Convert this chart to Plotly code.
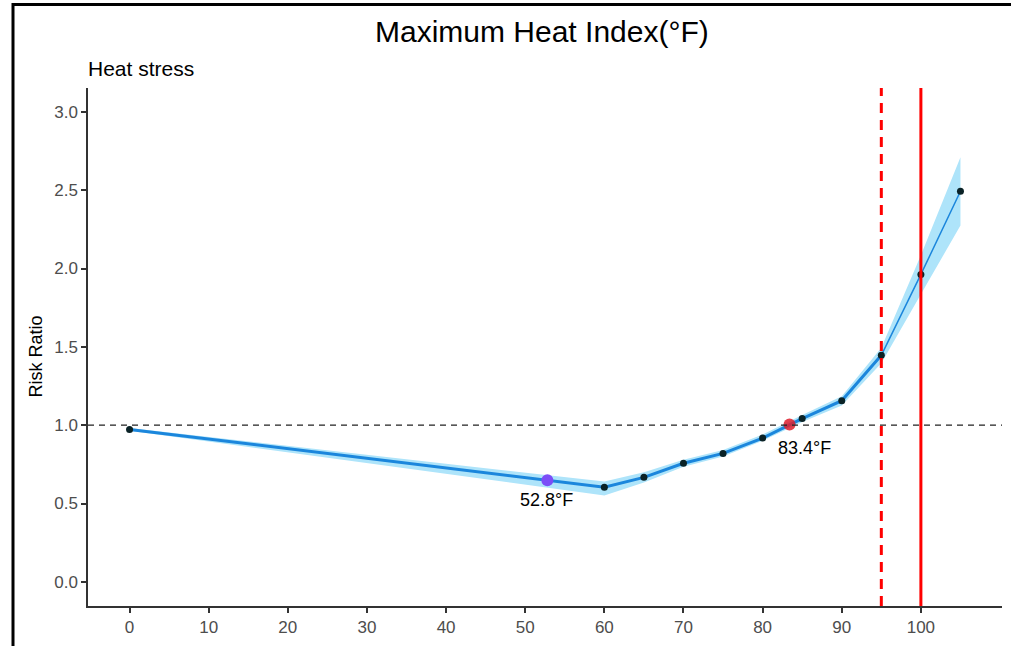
import plotly.graph_objects as go

# ---- data ----
temp_f = [0, 60, 65, 70, 75, 80, 85, 90, 95, 100, 105]
risk_ratio = [0.973, 0.604, 0.667, 0.757, 0.820, 0.918, 1.042, 1.156, 1.446, 1.962, 2.493]
ci_lower = [0.965, 0.552, 0.635, 0.735, 0.800, 0.900, 1.020, 1.125, 1.395, 1.835, 2.275]
ci_upper = [0.982, 0.640, 0.700, 0.780, 0.842, 0.940, 1.065, 1.185, 1.495, 2.085, 2.710]
min_risk_temp = [52.8]
min_risk_rr = [0.648]
mmt_temp = [83.4]
mmt_rr = [1.004]
threshold_dashed = 95
threshold_solid = 100
x_ticks = [0, 10, 20, 30, 40, 50, 60, 70, 80, 90, 100]
y_ticks = [0.0, 0.5, 1.0, 1.5, 2.0, 2.5, 3.0]

W, H = 1011, 646
L, R, T, B = 88, 9, 88, 37
pw, ph = W - L - R, H - T - B


def px(xpix):
    return (xpix - L) / pw


def py(ypix):
    return (H - B - ypix) / ph


FONT = "Arial, Liberation Sans, sans-serif"

fig = go.Figure()

# confidence band
fig.add_trace(go.Scatter(
    x=temp_f + temp_f[::-1],
    y=ci_upper + ci_lower[::-1],
    fill="toself", fillcolor="#AEE4FA",
    line=dict(width=0), mode="lines", hoverinfo="skip", showlegend=False))

# main line (thick part up to 95, thin part after)
split = temp_f.index(95)
fig.add_trace(go.Scatter(
    x=temp_f[:split + 1], y=risk_ratio[:split + 1], mode="lines",
    line=dict(color="#1B86DC", width=3), showlegend=False))
fig.add_trace(go.Scatter(
    x=temp_f[split:], y=risk_ratio[split:], mode="lines",
    line=dict(color="#1B86DC", width=1.5), showlegend=False))

# black dots
fig.add_trace(go.Scatter(
    x=temp_f, y=risk_ratio, mode="markers",
    marker=dict(color="#0A2226", size=7, line=dict(width=0)), showlegend=False))

# special points
fig.add_trace(go.Scatter(
    x=min_risk_temp, y=min_risk_rr, mode="markers",
    marker=dict(color="#7B4DF7", size=12, line=dict(width=0)), showlegend=False))
fig.add_trace(go.Scatter(
    x=mmt_temp, y=mmt_rr, mode="markers",
    marker=dict(color="rgba(222,30,45,0.85)", size=12, line=dict(width=0)), showlegend=False))

# reference lines
fig.add_shape(type="line", xref="paper", yref="y", x0=0, x1=1, y0=1, y1=1,
              line=dict(color="#222222", width=1.3, dash="6px,5px"))
fig.add_shape(type="line", xref="x", yref="paper", x0=threshold_dashed, x1=threshold_dashed,
              y0=0, y1=1, line=dict(color="#FF0000", width=3, dash="10px,7px"))
fig.add_shape(type="line", xref="x", yref="paper", x0=threshold_solid, x1=threshold_solid,
              y0=0, y1=1, line=dict(color="#FF0000", width=3))

# outer frame (left and top edges visible)
fig.add_shape(type="rect", xref="paper", yref="paper",
              x0=px(13), x1=px(1030), y0=py(4), y1=py(680),
              line=dict(color="black", width=3), layer="above")

# labels
fig.add_annotation(x=min_risk_temp[0], y=min_risk_rr[0], text="52.8°F",
                   showarrow=False, yshift=-20, xshift=-1,
                   font=dict(family=FONT, size=18, color="black"))
fig.add_annotation(x=mmt_temp[0], y=mmt_rr[0], text="83.4°F",
                   showarrow=False, yshift=-23, xshift=15,
                   font=dict(family=FONT, size=18, color="black"))

# title / subtitle / y title
fig.add_annotation(xref="paper", yref="paper", x=px(542), y=py(31),
                   text="Maximum Heat Index(°F)", showarrow=False,
                   xanchor="center", yanchor="middle",
                   font=dict(family=FONT, size=30, color="black"))
fig.add_annotation(xref="paper", yref="paper", x=px(86), y=py(68),
                   text="Heat stress", showarrow=False,
                   xanchor="left", yanchor="middle",
                   font=dict(family=FONT, size=21, color="black"))
fig.add_annotation(xref="paper", yref="paper", x=px(36), y=py(358),
                   text="Risk Ratio", showarrow=False, textangle=-90,
                   xanchor="center", yanchor="middle",
                   font=dict(family=FONT, size=18, color="black"))

fig.update_layout(
    width=W, height=H,
    margin=dict(l=L, r=R, t=T, b=B),
    paper_bgcolor="white", plot_bgcolor="white",
    showlegend=False,
    xaxis=dict(range=[-5.25, 110.25], tickvals=x_ticks,
               ticktext=[str(v) for v in x_ticks],
               showgrid=False, zeroline=False,
               showline=True, linecolor="#333333", linewidth=1.5,
               ticks="outside", ticklen=5, tickwidth=1.5, tickcolor="#333333",
               tickfont=dict(family=FONT, size=17, color="#4D4D4D")),
    yaxis=dict(range=[-0.154, 3.152], tickvals=y_ticks,
               ticktext=[f"{v:.1f}" for v in y_ticks],
               showgrid=False, zeroline=False,
               showline=True, linecolor="#333333", linewidth=1.5,
               ticks="outside", ticklen=5, tickwidth=1.5, tickcolor="#333333",
               tickfont=dict(family=FONT, size=17, color="#4D4D4D")),
)

fig.write_html("out.html",
               config={"displayModeBar": False},
               post_script="document.body.style.margin='0px';document.body.style.overflow='hidden';")
